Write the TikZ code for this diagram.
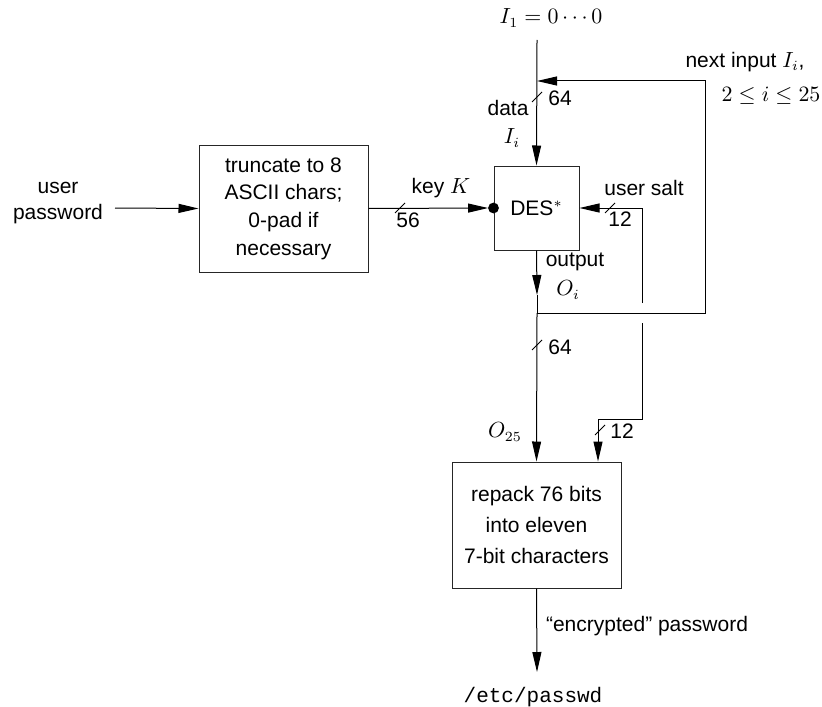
\documentclass[tikz,border=0pt]{standalone}
\usepackage{fontspec}
\setmainfont{Liberation Sans}
\setmonofont{Liberation Mono}
\usetikzlibrary{arrows.meta, positioning}
\tikzset{block/.style={draw=black!85, line width=0.5pt, minimum width=84.5pt, minimum height=63.5pt, align=center, inner sep=0pt}}
\tikzset{flow/.style={-{Triangle[length=10pt, width=4.5pt]}}}
\tikzset{bus/.pic={\draw (-5,5) -- (5,-5);}}
\tikzset{lbl/.style={inner sep=0pt, font=\fontsize{10.5}{13}\selectfont}}

\begin{document}
\begin{tikzpicture}[x=0.5pt, y=-0.5pt, line width=0.5pt]
\useasboundingbox (0,0) rectangle (822,706);
% boxes
\node[block, font=\fontsize{10.5}{13.8}\selectfont] (trunc) at (283.5,208.5) {truncate to 8\\ASCII chars;\\0-pad if\\ necessary};
\node[block, minimum width=42.5pt, minimum height=42pt, font=\fontsize{10.5}{13}\selectfont] (des) at (536.5,208) {DES$^*$};
\node[block, minimum height=63pt, font=\fontsize{10.5}{15.5}\selectfont] (repack) at (536.5,525) {repack 76 bits\\into eleven\\7-bit characters};
% free ends and bends
\coordinate (top) at (537,40);
\coordinate (fb) at (537,81);
\coordinate (loopr) at (705,81);
\coordinate (outtip) at (537,295);
\coordinate (split) at (537,313);
\coordinate (pwin) at (115,208);
\coordinate (salttop) at (642,208);
\coordinate (saltgap1) at (642,303);
\coordinate (saltgap2) at (642,323);
\coordinate (saltbend) at (598,419);
\coordinate (etcin) at (537,672);
% texts
\node[lbl, align=center] (user) at (58,203) {user\\password};
\node[lbl] (init) at (551,18) {$I_1 = 0\cdots0$};
\node[lbl] (next) at (745,62) {next input $I_i$,};
\node[lbl] (range) at (771,96) {$2 \le i \le 25$};
\node[lbl] (w64a) at (560,98) {64};
\node[lbl] (data) at (508,108) {data};
\node[lbl] (datai) at (512,138) {$I_i$};
\node[lbl] (keyk) at (441,188) {key $K$};
\node[lbl] (w56) at (408,220) {56};
\node[lbl] (salt) at (644,188) {user salt};
\node[lbl] (w12a) at (620,219) {12};
\node[lbl] (outp) at (575,262) {output};
\node[lbl] (outi) at (568,290) {$O_i$};
\node[lbl] (w64b) at (560,347) {64};
\node[lbl] (o25) at (505,432) {$O_{25}$};
\node[lbl] (w12b) at (622,431) {12};
\node[lbl] (crypt) at (647,626) {``encrypted'' password};
\node[lbl] (etc) at (533,697) {\ttfamily /etc/passwd};
% connectors
\draw[flow] (pwin) -- (trunc.west);
\draw[flow] (trunc.east) -- ([xshift=-2.7pt]des.west);
\fill (des.west) circle[radius=2.7pt];
\draw[flow] (top) -- (des.north);
\draw[flow] (split) -| (loopr) -- (fb);
\draw[flow] (des.south) -- (outtip);
\draw (outtip) -- (split);
\draw[flow] (split) -- (repack.north);
\draw[flow] (saltgap1) -- (salttop) -- (des.east);
\draw[flow] (saltgap2) |- (saltbend) -- (saltbend |- repack.north);
\draw[flow] (repack.south) -- (etcin);
% bus widths
\pic at (537,97) {bus};
\pic at (400,208) {bus};
\pic at (610,208) {bus};
\pic at (537,345) {bus};
\pic at (600,430) {bus};
\end{tikzpicture}
\end{document}
